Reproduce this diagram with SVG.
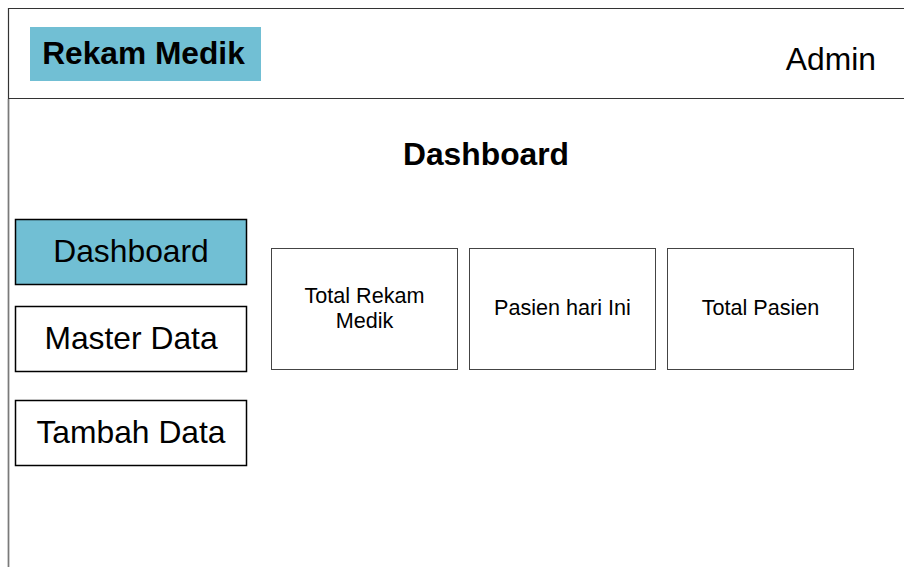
<svg xmlns="http://www.w3.org/2000/svg" width="904" height="567" viewBox="0 0 904 567">
  <style>
    .frame { fill: none; stroke: #333333; stroke-width: 1.2; }
    .side { fill: none; stroke: #7a7a7a; stroke-width: 1.5; }
    .btn { fill: #ffffff; stroke: #000000; stroke-width: 1.5; }
    .btn.active { fill: #71bfd4; }
    .card { fill: #ffffff; stroke: #444444; stroke-width: 1; }
    text { font-family: "Liberation Sans", Arial, sans-serif; fill: #000000; }
    .btn-label { font-size: 31.8px; text-anchor: middle; }
    .card-label { font-size: 21.6px; text-anchor: middle; }
  </style>

  <rect width="904" height="567" fill="#ffffff"/>

  <!-- page frame: header bar and left edge -->
  <g id="frame">
    <path class="frame" d="M8.5 567 V8.5 H904"/>
    <line class="frame" x1="8.5" y1="98.5" x2="904" y2="98.5"/>
    <line class="side" x1="8.5" y1="99" x2="8.5" y2="567"/>
  </g>

  <g id="brand">
    <rect x="30" y="27" width="231" height="54" fill="#71bfd4"/>
    <text x="143.5" y="64" font-size="31.7" font-weight="bold" text-anchor="middle">Rekam Medik</text>
  </g>

  <g id="user">
    <text x="876" y="70" font-size="31.8" text-anchor="end">Admin</text>
  </g>

  <g id="title">
    <text x="486" y="165" font-size="31.8" font-weight="bold" text-anchor="middle">Dashboard</text>
  </g>

  <!-- sidebar menu -->
  <g id="menu-dashboard">
    <rect class="btn active" x="15.5" y="219.5" width="231" height="65"/>
    <text class="btn-label" x="131" y="262">Dashboard</text>
  </g>
  <g id="menu-master">
    <rect class="btn" x="15.5" y="306.5" width="231" height="65"/>
    <text class="btn-label" x="131" y="349">Master Data</text>
  </g>
  <g id="menu-tambah">
    <rect class="btn" x="15.5" y="400.5" width="231" height="65"/>
    <text class="btn-label" x="131" y="443">Tambah Data</text>
  </g>

  <!-- summary cards -->
  <g id="card-rekam">
    <rect class="card" x="271.5" y="248.5" width="186" height="121"/>
    <text class="card-label" x="364.5" y="303">Total Rekam</text>
    <text class="card-label" x="364.5" y="328">Medik</text>
  </g>
  <g id="card-hari-ini">
    <rect class="card" x="469.5" y="248.5" width="186" height="121"/>
    <text class="card-label" x="562.5" y="315">Pasien hari Ini</text>
  </g>
  <g id="card-pasien">
    <rect class="card" x="667.5" y="248.5" width="186" height="121"/>
    <text class="card-label" x="760.5" y="315">Total Pasien</text>
  </g>

  <g id="connectors"/>
</svg>
